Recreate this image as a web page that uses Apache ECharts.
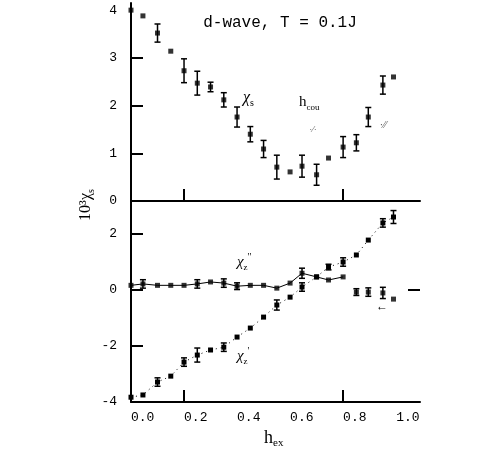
<!DOCTYPE html>
<html>
<head>
<meta charset="utf-8">
<script src="https://cdn.jsdelivr.net/npm/echarts@6/dist/echarts.min.js"></script>
<style>
html,body{margin:0;padding:0;background:#fff;}
#c{width:498px;height:457px;}
</style>
</head>
<body>
<div id="c"></div>
<script>
// field values (x)
const hx = [0, 0.045, 0.1, 0.15, 0.2, 0.25, 0.3, 0.35, 0.4, 0.45, 0.5, 0.55, 0.6, 0.645, 0.7, 0.745, 0.8, 0.85, 0.895, 0.95, 0.99];
// top panel: chi_s
const chiS    = [4.0, 3.88, 3.52, 3.14, 2.73, 2.47, 2.39, 2.12, 1.76, 1.40, 1.09, 0.71, 0.61, 0.73, 0.55, 0.90, 1.13, 1.22, 1.76, 2.43, 2.60];
const chiSErr = [0, 0, 0.19, 0, 0.25, 0.25, 0.1, 0.15, 0.21, 0.16, 0.18, 0.25, 0, 0.23, 0.22, 0, 0.22, 0.17, 0.2, 0.19, 0];
// bottom panel: chi_z'
const chiZ1    = [-3.83, -3.75, -3.29, -3.08, -2.58, -2.33, -2.15, -2.05, -1.69, -1.37, -0.98, -0.55, -0.27, 0.09, 0.45, 0.80, 0.98, 1.23, 1.76, 2.37, 2.58];
const chiZ1Err = [0, 0, 0.15, 0, 0.15, 0.25, 0, 0.15, 0, 0, 0, 0.18, 0, 0.15, 0, 0.1, 0.15, 0, 0, 0.15, 0.23];
// bottom panel: chi_z''
const chiZ2    = [0.15, 0.2, 0.15, 0.15, 0.15, 0.2, 0.27, 0.23, 0.12, 0.15, 0.15, 0.05, 0.23, 0.58, 0.45, 0.34, 0.45, -0.09, -0.09, -0.12, -0.34];
const chiZ2Err = [0, 0.15, 0, 0, 0, 0.15, 0, 0.15, 0.12, 0, 0, 0, 0, 0.18, 0, 0, 0, 0.12, 0.15, 0.2, 0];
const chiZ2LineCount = 17; // connected part of chi_z''
// tick labels
const xTickLabels = [0, 0.2, 0.4, 0.6, 0.8, 1.0];
const xTickMarks = [0.2, 0.8];
const yTopLabels = [0, 1, 2, 3, 4];
const yBotLabels = [-4, -2, 0, 2];

const MONO = '"Liberation Mono","DejaVu Sans Mono",monospace';
const SERIF = '"Liberation Serif","DejaVu Serif",serif';

function pts(xs, ys) { return xs.map((x, i) => [x, ys[i]]); }
function errData(xs, ys, es) {
  const out = [];
  xs.forEach((x, i) => { if (es[i] > 0) out.push([x, ys[i] - es[i], ys[i] + es[i]]); });
  return out;
}
function errSeries(gi, data) {
  return {
    type: 'custom', xAxisIndex: gi, yAxisIndex: gi, data: data, z: 3,
    renderItem: function (params, api) {
      const lo = api.coord([api.value(0), api.value(1)]);
      const hi = api.coord([api.value(0), api.value(2)]);
      const w = 3;
      const st = { stroke: '#000', lineWidth: 1.5 };
      return { type: 'group', children: [
        { type: 'line', shape: { x1: lo[0], y1: lo[1], x2: hi[0], y2: hi[1] }, style: st },
        { type: 'line', shape: { x1: lo[0] - w, y1: lo[1], x2: lo[0] + w, y2: lo[1] }, style: st },
        { type: 'line', shape: { x1: hi[0] - w, y1: hi[1], x2: hi[0] + w, y2: hi[1] }, style: st }
      ]};
    }
  };
}
const axLine = { show: true, onZero: false, lineStyle: { color: '#000', width: 2 } };

const chart = echarts.init(document.getElementById('c'), null, { renderer: 'canvas' });
chart.setOption({
  backgroundColor: '#fff',
  animation: false,
  grid: [
    { left: 131, top: 3, width: 289, height: 198 },
    { left: 131, top: 201, width: 289, height: 201 }
  ],
  xAxis: [
    { type: 'value', gridIndex: 0, min: 0, max: 1.09, axisLine: axLine, splitLine: { show: false },
      axisTick: { show: true, inside: true, length: 12, customValues: xTickMarks, lineStyle: { color: '#000', width: 2 } },
      axisLabel: { show: false } },
    { type: 'value', gridIndex: 1, min: 0, max: 1.09, axisLine: axLine, splitLine: { show: false },
      axisTick: { show: true, inside: true, length: 12, customValues: xTickMarks, lineStyle: { color: '#000', width: 2 } },
      axisLabel: { show: true, customValues: xTickLabels, align: 'left', margin: 9, color: '#000', fontFamily: MONO, fontSize: 13,
        formatter: v => v.toFixed(1) } }
  ],
  yAxis: [
    { type: 'value', gridIndex: 0, min: 0, max: 4.15, axisLine: axLine, splitLine: { show: false },
      axisTick: { show: true, inside: true, length: 12, customValues: [1, 2, 3], lineStyle: { color: '#000', width: 2 } },
      axisLabel: { show: true, customValues: yTopLabels, margin: 14, color: '#000', fontFamily: MONO, fontSize: 13 } },
    { type: 'value', gridIndex: 1, min: -4, max: 3.15, axisLine: axLine, splitLine: { show: false },
      axisTick: { show: true, inside: true, length: 12, customValues: [-2, 0, 2], lineStyle: { color: '#000', width: 2 } },
      axisLabel: { show: true, customValues: yBotLabels, margin: 14, color: '#000', fontFamily: MONO, fontSize: 13 } },
    { type: 'value', gridIndex: 1, position: 'right', min: -4, max: 3.15, axisLine: { show: false, onZero: false }, splitLine: { show: false },
      axisTick: { show: true, inside: true, length: 12, customValues: [0], lineStyle: { color: '#000', width: 2 } },
      axisLabel: { show: false } }
  ],
  series: [
    { type: 'scatter', xAxisIndex: 0, yAxisIndex: 0, data: pts(hx, chiS), symbol: 'rect', symbolSize: 5,
      itemStyle: { color: '#000' }, z: 4 },
    errSeries(0, errData(hx, chiS, chiSErr)),
    { type: 'line', xAxisIndex: 1, yAxisIndex: 1, data: pts(hx, chiZ1), symbol: 'rect', symbolSize: 5,
      showSymbol: true, itemStyle: { color: '#000' }, lineStyle: { color: '#000', width: 1, type: [1, 4] }, z: 4 },
    errSeries(1, errData(hx, chiZ1, chiZ1Err)),
    { type: 'line', xAxisIndex: 1, yAxisIndex: 1, data: pts(hx, chiZ2).slice(0, chiZ2LineCount), symbol: 'none',
      lineStyle: { color: '#000', width: 1 }, z: 2 },
    { type: 'scatter', xAxisIndex: 1, yAxisIndex: 1, data: pts(hx, chiZ2), symbol: 'rect', symbolSize: 5,
      itemStyle: { color: '#000' }, z: 4 },
    errSeries(1, errData(hx, chiZ2, chiZ2Err))
  ],
  graphic: [
    { type: 'text', x: 280, y: 23, style: { text: 'd-wave, T = 0.1J', font: '16px ' + MONO, fill: '#000', align: 'center', verticalAlign: 'middle' } },
    { type: 'text', x: 243, y: 98, style: { text: '{a|χ}{s|s}', fill: '#000', align: 'left', verticalAlign: 'middle',
      rich: { a: { fontFamily: SERIF, fontSize: 16, fontStyle: 'italic', lineHeight: 20, verticalAlign: 'middle' },
              s: { fontFamily: SERIF, fontSize: 10, lineHeight: 20, verticalAlign: 'bottom' } } } },
    { type: 'text', x: 299, y: 102, style: { text: '{a|h}{s|cou}', fill: '#000', align: 'left', verticalAlign: 'middle',
      rich: { a: { fontFamily: SERIF, fontSize: 15, lineHeight: 20, verticalAlign: 'middle' },
              s: { fontFamily: SERIF, fontSize: 9, lineHeight: 20, verticalAlign: 'bottom' } } } },
    { type: 'text', x: 313, y: 130, style: { text: '·⁄·', font: '9px ' + SERIF, fill: '#444', align: 'center', verticalAlign: 'middle' } },
    { type: 'text', x: 383, y: 125, style: { text: '·⁄⁄', font: '10px ' + SERIF, fill: '#444', align: 'center', verticalAlign: 'middle' } },
    { type: 'text', x: 237, y: 262, style: { text: '{a|χ}{s|z}{p|\'\'}', fill: '#000', align: 'left', verticalAlign: 'middle',
      rich: { a: { fontFamily: SERIF, fontSize: 15, fontStyle: 'italic', lineHeight: 20, verticalAlign: 'middle' },
              s: { fontFamily: SERIF, fontSize: 9, lineHeight: 20, verticalAlign: 'bottom' },
              p: { fontFamily: SERIF, fontSize: 10, lineHeight: 20, verticalAlign: 'top' } } } },
    { type: 'text', x: 237, y: 356, style: { text: '{a|χ}{s|z}{p|\'}', fill: '#000', align: 'left', verticalAlign: 'middle',
      rich: { a: { fontFamily: SERIF, fontSize: 15, fontStyle: 'italic', lineHeight: 20, verticalAlign: 'middle' },
              s: { fontFamily: SERIF, fontSize: 9, lineHeight: 20, verticalAlign: 'bottom' },
              p: { fontFamily: SERIF, fontSize: 10, lineHeight: 20, verticalAlign: 'top' } } } },
    { type: 'text', x: 382, y: 307, style: { text: '←', font: '12px ' + SERIF, fill: '#000', align: 'center', verticalAlign: 'middle' } },
    { type: 'text', x: 264, y: 438, style: { text: '{a|h}{s|ex}', fill: '#000', align: 'left', verticalAlign: 'middle',
      rich: { a: { fontFamily: SERIF, fontSize: 18, lineHeight: 22, verticalAlign: 'middle' },
              s: { fontFamily: SERIF, fontSize: 11, lineHeight: 22, verticalAlign: 'bottom' } } } },
    { type: 'text', x: 86, y: 205, rotation: Math.PI / 2, style: { text: '{a|10³χ}{s|s}', fill: '#000', align: 'center', verticalAlign: 'middle',
      rich: { a: { fontFamily: SERIF, fontSize: 16, lineHeight: 20, verticalAlign: 'middle' },
              s: { fontFamily: SERIF, fontSize: 10, lineHeight: 20, verticalAlign: 'bottom' } } } }
  ]
});
</script>
</body>
</html>
